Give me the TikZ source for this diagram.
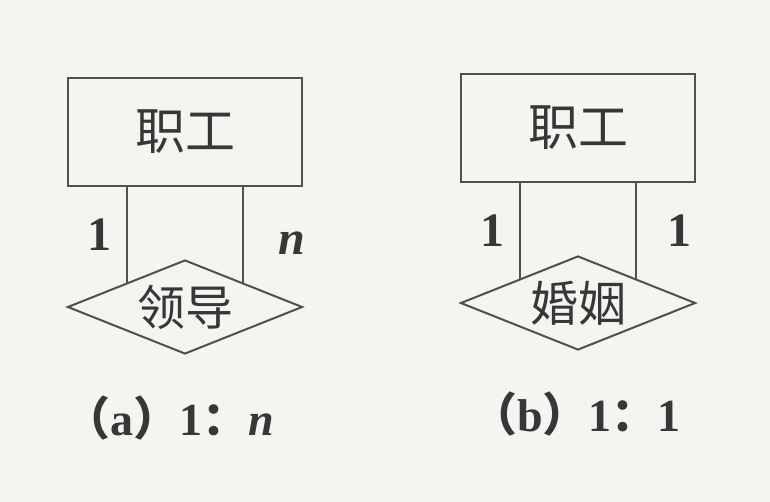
\documentclass[tikz,border=0pt]{standalone}
\usepackage{fontspec}
\setmainfont{Liberation Serif}
\newfontfamily\cjk{Noto Sans CJK SC}
\usetikzlibrary{calc,positioning,shapes.geometric}
\definecolor{paper}{RGB}{244,244,241}
\definecolor{ink}{RGB}{80,80,80}
\definecolor{textink}{RGB}{55,55,55}

\begin{document}
\begin{tikzpicture}[
        x=0.5pt, y=-0.5pt,
        entity/.style={
            draw=ink,
            line width=1pt,
            minimum width=117pt,
            minimum height=54pt,
            text=textink,
            font=\fontsize{25}{30}\selectfont\cjk,
          },
        relation/.style={
            draw=ink,
            line width=1pt,
            diamond,
            aspect=2.5,
            inner sep=0pt,
            minimum width=117.5pt,
            minimum height=47pt,
            text=textink,
            font=\fontsize{24}{28}\selectfont\cjk,
          },
        card/.style={
            font=\fontsize{24}{28}\selectfont\bfseries,
            text=textink,
          },
        caption/.style={
            font=\fontsize{23}{27}\selectfont\bfseries,
            text=textink,
          },
        link/.style={
            draw=ink,
            line width=1pt,
          },
      ]
      \fill[paper] (0,0) rectangle (770,502);

      % (a) 1:n
      \node [
        entity
      ] (emp1) at (185,132) {职工};
      \node [
        relation,
        below=36pt of emp1
      ] (lead) {领导};
      \node [
        caption,
        below=17pt of lead,
        xshift=-8pt
      ] (capa) {{\cjk （}a{\cjk ）}1{\cjk ：}\textit{n}};

      \coordinate (la) at ($(lead.north)!0.49!(lead.west)$);
      \coordinate (ra) at ($(lead.north)!0.49!(lead.east)$);
      \draw[link] (la) -- node[card, left=4pt] {1} (la |- emp1.south);
      \draw[link] (ra) -- node[card, right=14pt, yshift=-4pt] {\textit{n}} (ra |- emp1.south);

      % (b) 1:1
      \node [
        entity
      ] (emp2) at (578,128) {职工};
      \node [
        relation,
        below=36pt of emp2
      ] (marry) {婚姻};
      \node [
        caption,
        below=17pt of marry,
        xshift=-1pt
      ] (capb) {{\cjk （}b{\cjk ）}1{\cjk ：}1};

      \coordinate (lb) at ($(marry.north)!0.49!(marry.west)$);
      \coordinate (rb) at ($(marry.north)!0.49!(marry.east)$);
      \draw[link] (lb) -- node[card, left=4pt] {1} (lb |- emp2.south);
      \draw[link] (rb) -- node[card, right=12pt] {1} (rb |- emp2.south);
    \end{tikzpicture}
\end{document}
